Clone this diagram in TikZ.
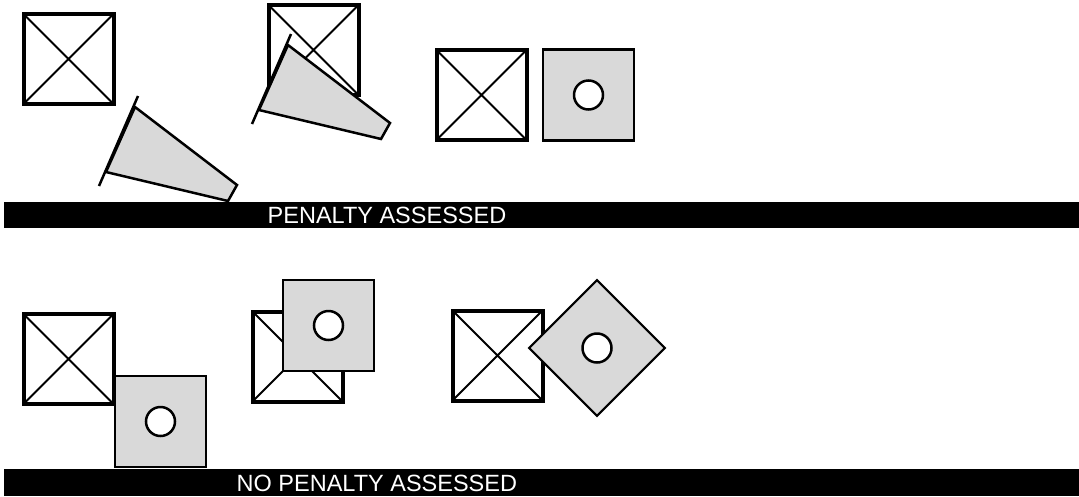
\documentclass[tikz,border=0pt]{standalone}
\usepackage{fontspec}
\setmainfont{Liberation Sans}
\usetikzlibrary{positioning}
\definecolor{padgray}{HTML}{D9D9D9}

\begin{document}
\begin{tikzpicture}[x=1pt, y=-1pt,
    obst/.style={draw, line width=4pt, fill=white, minimum size=90pt,
                 inner sep=0pt, outer sep=0pt,
                 path picture={\draw[line width=2pt]
                   (path picture bounding box.north west) -- (path picture bounding box.south east)
                   (path picture bounding box.south west) -- (path picture bounding box.north east);}},
    pad/.style={draw, line width=2.5pt, fill=padgray, minimum size=91pt,
                inner sep=0pt, outer sep=0pt,
                path picture={\draw[line width=2.5pt, fill=white]
                   (path picture bounding box.center) circle (14.5pt);}},
    cone/.style={draw, line width=2.5pt, fill=padgray},
    stick/.style={line width=2.5pt},
    bar/.style={fill=black},
    caption/.style={text=white, inner sep=0pt, anchor=base west,
                    font=\fontsize{23.5}{28}\selectfont}
]
    \useasboundingbox (0,0) rectangle (1079,496);

    % Top row: penalty assessed
    \node[obst] (obst1) at (68.5,59) {};
    \node[obst] (obst2) at (313.5,50) {};
    \node[obst] (obst3) at (481.5,95) {};
    \node[pad]  (pad1)  at (588.5,95) {};

    \foreach \dx/\dy in {0/0, 153/-62} {
      \begin{scope}[shift={(\dx,\dy)}]
        \draw[cone] (135,107) -- (237,185) -- (228,201) -- (106,172) -- cycle;
        \draw[stick] (138,96) -- (99,186);
      \end{scope}
    }

    \fill[bar] (4,202) rectangle (1079,228);
    \node[caption] (penyes) at (267.5,223) {PENALTY ASSESSED};

    % Bottom row: no penalty
    \node[obst] (obst4) at (68.5,359) {};
    \node[pad]  (pad2)  at (160.5,421.5) {};
    \node[obst] (obst5) at (297.5,356.5) {};
    \node[pad]  (pad3)  at (328.5,325.5) {};
    \node[obst] (obst6) at (497.5,355.5) {};
    \node[pad, rotate=45, minimum size=96pt, line width=2pt] (pad4) at (597,348) {};

    \fill[bar] (4,469) rectangle (1079,496);
    \node[caption] (penno) at (236.5,491) {NO PENALTY ASSESSED};
\end{tikzpicture}
\end{document}
